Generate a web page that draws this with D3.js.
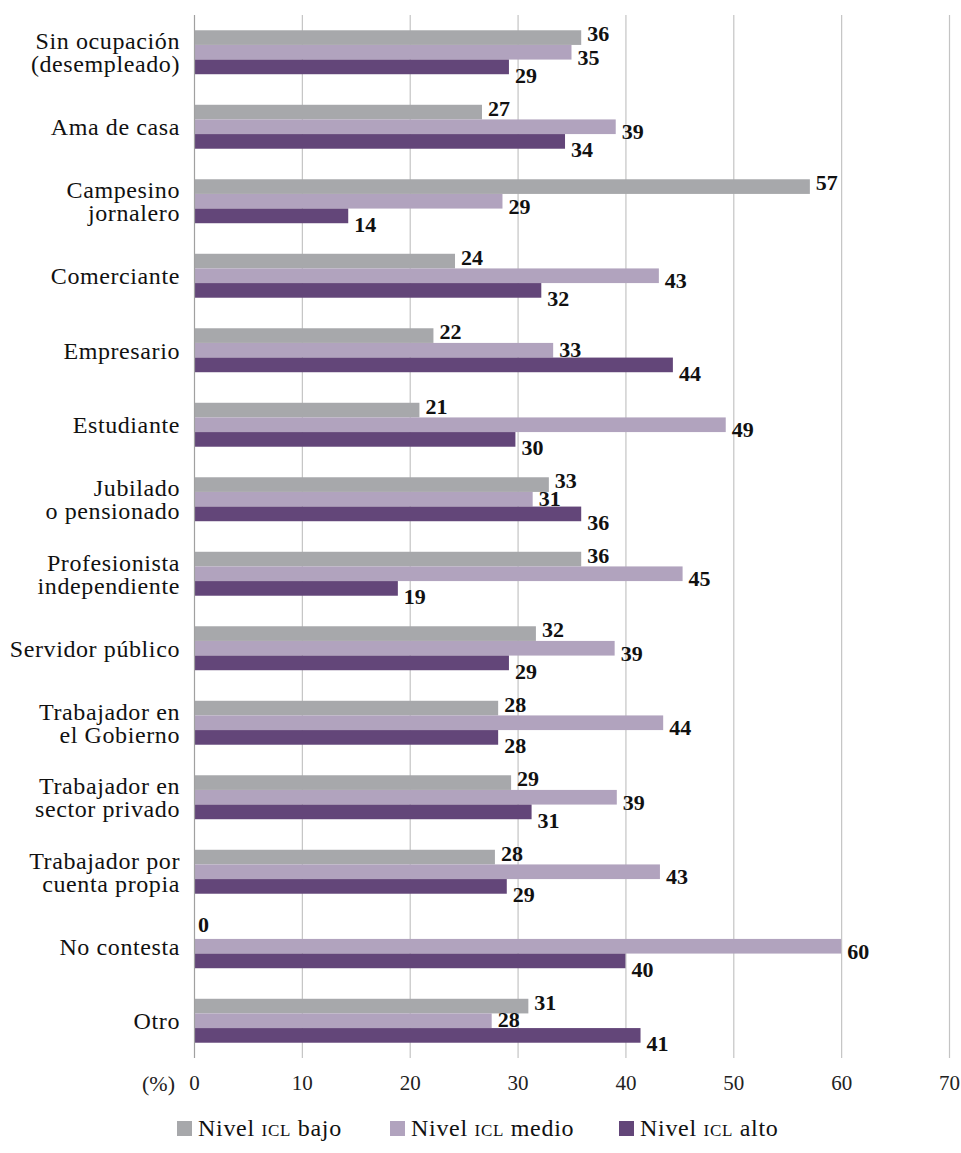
<!DOCTYPE html>
<html>
<head>
<meta charset="utf-8">
<script src="https://cdn.jsdelivr.net/npm/d3@7"></script>
<style>
  html, body { margin: 0; padding: 0; background: #fff; }
  svg { display: block; }
</style>
</head>
<body>
<svg id="chart" width="961" height="1153"></svg>
<script>
const categories = [
  ["Sin ocupación", "(desempleado)"],
  ["Ama de casa"],
  ["Campesino", "jornalero"],
  ["Comerciante"],
  ["Empresario"],
  ["Estudiante"],
  ["Jubilado", "o pensionado"],
  ["Profesionista", "independiente"],
  ["Servidor público"],
  ["Trabajador en", "el Gobierno"],
  ["Trabajador en", "sector privado"],
  ["Trabajador por", "cuenta propia"],
  ["No contesta"],
  ["Otro"]
];
const seriesNames = ["Nivel icl bajo", "Nivel icl medio", "Nivel icl alto"];
const bajo  = [35.9, 26.7, 57.1, 24.2, 22.2, 20.9, 32.9, 35.9, 31.7, 28.2, 29.4, 27.9, 0, 31.0];
const medio = [35.0, 39.1, 28.6, 43.1, 33.3, 49.3, 31.4, 45.3, 39.0, 43.5, 39.2, 43.2, 60.0, 27.6];
const alto  = [29.2, 34.4, 14.3, 32.2, 44.4, 29.8, 35.9, 18.9, 29.2, 28.2, 31.3, 29.0, 40.0, 41.4];
const xTicks = [0, 10, 20, 30, 40, 50, 60, 70];
const colors = ["#a7a8ab", "#b1a3be", "#634679"];

(function () {
const FONT = "'Liberation Serif', 'Times New Roman', serif";
const series = [bajo, medio, alto];
const svg = d3.select("#chart");
const mLeft = 194, mRight = 949, mTop = 15, mBottom = 1058;

const x = d3.scaleLinear().domain([0, 70]).range([mLeft, mRight]);
const catKeys = categories.map((c, i) => i);
const y = d3.scaleBand().domain(catKeys).range([mTop, mBottom]).paddingInner(0.41).paddingOuter(0.205);
const ys = d3.scaleBand().domain([0, 1, 2]).range([0, y.bandwidth()]);

// gridlines
svg.append("g").selectAll("line").data(xTicks.slice(1)).join("line")
  .attr("x1", d => x(d) + 0.5).attr("x2", d => x(d) + 0.5)
  .attr("y1", mTop).attr("y2", mBottom)
  .attr("stroke", "#c4c4c4").attr("stroke-width", 1.2);

// bars
function labelOffset(s, i) {
  if (s === 0) return -4;
  if (s === 1) return alto[i] > medio[i] ? -1 : 5;
  return 8;
}
series.forEach((vals, s) => {
  const g = svg.append("g");
  g.selectAll("rect").data(vals).join("rect")
    .attr("x", x(0))
    .attr("y", (d, i) => y(i) + ys(s))
    .attr("width", d => x(d) - x(0))
    .attr("height", ys.bandwidth())
    .attr("fill", colors[s]);
  g.selectAll("text").data(vals).join("text")
    .style("font-family", FONT).style("font-size", "22px").style("font-weight", "bold")
    .attr("fill", "#111")
    .attr("x", d => x(d) + (d === 0 ? 4 : 6))
    .attr("y", (d, i) => y(i) + ys(s) + ys.bandwidth() / 2 + labelOffset(s, i) + (d === 0 ? -3 : 0))
    .attr("dy", "0.35em")
    .text(d => d3.format(".0f")(d));
});

// category axis line
svg.append("line")
  .attr("x1", x(0) + 0.5).attr("x2", x(0) + 0.5)
  .attr("y1", mTop).attr("y2", mBottom)
  .attr("stroke", "#a0a0a0").attr("stroke-width", 1.2);

// category labels
const lineH = 23;
categories.forEach((lines, i) => {
  const cy = y(i) + y.bandwidth() / 2;
  const t = svg.append("text").attr("text-anchor", "end")
    .style("font-family", FONT).style("font-size", "24px").style("letter-spacing", "0.6px")
    .attr("fill", "#111");
  const n = lines.length;
  lines.forEach((ln, k) => {
    t.append("tspan").attr("x", 180)
      .attr("y", cy + (k - (n - 1) / 2) * lineH)
      .attr("dy", "0.35em")
      .text(ln);
  });
});

// x axis
const xAxis = d3.axisBottom(x).tickValues(xTicks).tickSize(0).tickPadding(0).tickFormat(d3.format("d"));
const ax = svg.append("g").attr("transform", `translate(0, 1083)`).call(xAxis);
ax.select(".domain").remove();
ax.selectAll("text").attr("dy", "0.35em")
  .style("font-family", FONT).style("font-size", "21px").attr("fill", "#222");
svg.append("text").attr("x", 175).attr("y", 1083).attr("dy", "0.35em")
  .attr("text-anchor", "end").style("font-family", FONT).style("font-size", "22px")
  .attr("fill", "#222").text("(%)");

// legend
const legX = [177, 390, 619];
const legY = 1128;
seriesNames.forEach((name, s) => {
  const g = svg.append("g").attr("transform", `translate(${legX[s]}, ${legY})`);
  g.append("rect").attr("x", 0).attr("y", -7).attr("width", 15).attr("height", 15).attr("fill", colors[s]);
  const t = g.append("text").attr("x", 21).attr("y", 0).attr("dy", "0.35em")
    .style("font-family", FONT).style("font-size", "24px").style("letter-spacing", "0.7px")
    .attr("fill", "#111");
  const parts = name.split("icl");
  t.append("tspan").text(parts[0]);
  t.append("tspan").style("font-variant", "small-caps").text("icl");
  t.append("tspan").text(parts[1]);
});
})();
</script>
</body>
</html>
